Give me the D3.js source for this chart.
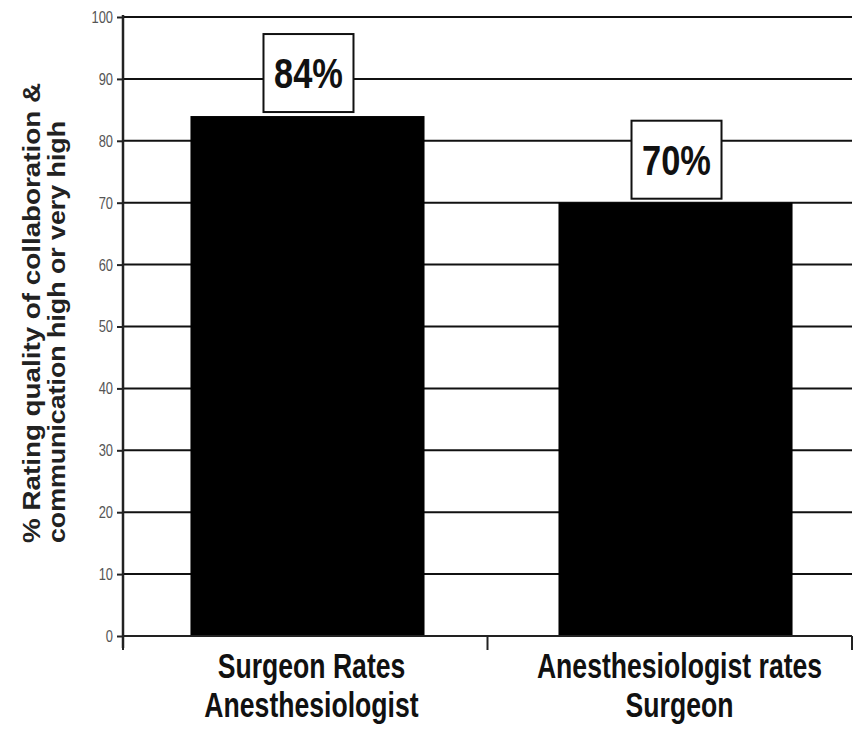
<!DOCTYPE html>
<html>
<head>
<meta charset="utf-8">
<script src="https://cdn.jsdelivr.net/npm/d3@7"></script>
<style>
  body { margin: 0; background: #fff; }
  svg { display: block; }
</style>
</head>
<body>
<svg id="chart" width="866" height="734"></svg>
<script>
const categories = [['Surgeon Rates', 'Anesthesiologist'], ['Anesthesiologist rates', 'Surgeon']]
const values = [84, 70]
const yTicks = [0, 10, 20, 30, 40, 50, 60, 70, 80, 90, 100]
const yTitle = ['% Rating quality of collaboration &', 'communication high or very high']

const font = '"Liberation Sans", Arial, sans-serif'
const squeeze = 0.76   // fake a narrow face, none is installed
const margin = { top: 17, right: 14, bottom: 98, left: 123 }
const width = 866 - margin.left - margin.right
const height = 734 - margin.top - margin.bottom

const svg = d3.select('#chart')
const plot = svg.append('g').attr('transform', `translate(${margin.left}, ${margin.top})`)

const scaleX = d3.scaleBand().domain(d3.range(values.length)).range([6, width + 2]).paddingInner(0.364).paddingOuter(0.167)
const bandX = d3.scaleBand().domain(d3.range(values.length)).range([0, width])
const scaleY = d3.scaleLinear().domain([0, 100]).range([height, 0])

// grid lines
plot.selectAll('line.grid').data(yTicks.filter(d => d > 0))
    .join('line')
    .attr('class', 'grid')
    .attr('x1', 0).attr('x2', width)
    .attr('y1', d => scaleY(d)).attr('y2', d => scaleY(d))
    .attr('stroke', '#111').attr('stroke-width', 2)

// bars
plot.selectAll('rect.bar').data(values)
    .join('rect')
    .attr('class', 'bar')
    .attr('x', (d, i) => scaleX(i))
    .attr('width', scaleX.bandwidth())
    .attr('y', d => scaleY(d))
    .attr('height', d => height - scaleY(d))
    .attr('fill', '#000')

// value boxes
const boxW = 90, boxH = 78
const labels = plot.selectAll('g.lab').data(values).join('g').attr('class', 'lab')
    .attr('transform', (d, i) => `translate(${scaleX(i) + scaleX.bandwidth() / 2 + 1}, ${scaleY(d) - 4})`)
labels.append('rect')
    .attr('x', -boxW / 2).attr('y', -boxH).attr('width', boxW).attr('height', boxH)
    .attr('fill', '#fff').attr('stroke', '#111').attr('stroke-width', 2)
labels.append('text')
    .attr('transform', `translate(0, ${-boxH / 2 + 15}) scale(0.82, 1)`)
    .attr('text-anchor', 'middle')
    .attr('font-family', font).attr('font-weight', 'bold').attr('font-size', 42)
    .attr('fill', '#111')
    .text(d => d + '%')

// y axis
const axisY = d3.axisLeft(scaleY).tickValues(yTicks).tickSize(6).tickPadding(3)
const gy = plot.append('g').attr('id', 'y_axis').call(axisY)
gy.select('.domain').attr('stroke', '#222').attr('stroke-width', 2.5).attr('d', `M0,${height + 12}V-2`)
gy.selectAll('.tick line').attr('stroke', '#222').attr('stroke-width', 2)
gy.selectAll('.tick text')
    .attr('x', -10 / squeeze)
    .attr('transform', `scale(${squeeze}, 1)`)
    .attr('font-family', font).attr('font-size', 17).attr('fill', '#555')

// x axis
const gx = plot.append('g').attr('id', 'x_axis').attr('transform', `translate(0, ${height})`)
gx.append('line').attr('x1', 0).attr('x2', width).attr('stroke', '#222').attr('stroke-width', 2)
gx.selectAll('line.xt').data(d3.range(values.length + 1))
    .join('line').attr('class', 'xt')
    .attr('x1', d => d * bandX.bandwidth()).attr('x2', d => d * bandX.bandwidth())
    .attr('y1', 0).attr('y2', 14)
    .attr('stroke', '#222').attr('stroke-width', 2)
gx.selectAll('g.cat').data(categories)
    .join('g').attr('class', 'cat')
    .attr('transform', (d, i) => `translate(${scaleX(i) + scaleX.bandwidth() / 2 + 4}, 0) scale(${squeeze}, 1)`)
    .selectAll('text').data(d => d)
    .join('text')
    .attr('y', (d, j) => 42 + j * 39)
    .attr('text-anchor', 'middle')
    .attr('font-family', font).attr('font-weight', 'bold').attr('font-size', 35)
    .attr('fill', '#111')
    .text(d => d)

// y title, two lines starting from the bottom
const titleLen = [460, 422]
svg.append('g')
    .attr('transform', 'translate(40, 543) rotate(-90)')
    .selectAll('text').data(yTitle)
    .join('text')
    .attr('x', 0).attr('y', (d, j) => j * 25)
    .attr('textLength', (d, j) => titleLen[j])
    .attr('lengthAdjust', 'spacingAndGlyphs')
    .attr('font-family', font).attr('font-weight', 'bold').attr('font-size', 23)
    .attr('fill', '#222')
    .text(d => d)
</script>
</body>
</html>
